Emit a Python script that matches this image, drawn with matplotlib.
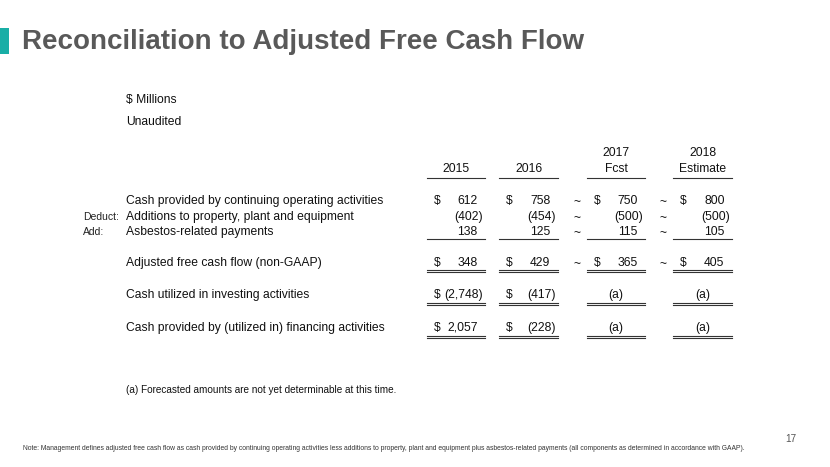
import matplotlib
matplotlib.use("Agg")
import matplotlib.pyplot as plt
from matplotlib.patches import Rectangle

# --- data ---
header_top = ["", "", "2017", "2018"]
header_bottom = ["2015", "2016", "Fcst", "Estimate"]
operating = [612, 758, 750, 800]
capex = [-402, -454, -500, -500]
asbestos = [138, 125, 115, 105]
adjusted_fcf = [348, 429, 365, 405]
investing = [-2748, -417, None, None]
financing = [2057, -228, None, None]
approx = [False, False, True, True]

row_labels = [
    "Cash provided by continuing operating activities",
    "Additions to property, plant and equipment",
    "Asbestos-related payments",
    "Adjusted free cash flow (non-GAAP)",
    "Cash utilized in investing activities",
    "Cash provided by (utilized in) financing activities",
]
row_prefix = ["", "Deduct:", "Add:", "", "", ""]

TITLE = "Reconciliation to Adjusted Free Cash Flow"
NOTE = ("Note: Management defines adjusted free cash flow as cash provided by continuing operating "
        "activities less additions to property, plant and equipment plus asbestos-related payments "
        "(all components as determined in accordance with GAAP).")

FONT = "Liberation Sans"
plt.rcParams["font.family"] = [FONT, "DejaVu Sans"]

# layout (pixel coords, y down)
col_left = [427, 499, 587, 673]
col_right = [485, 558, 645, 732]
label_x = 126
prefix_x = 83
row_y = [201, 217, 232, 263, 295, 328]
FS = 8.7
TXT = "#111111"


def fmt(v):
    if v < 0:
        return f"({-v:,})"
    return f"{v:,}"


fig = plt.figure(figsize=(8.3, 4.67), dpi=100)
ax = fig.add_axes([0, 0, 1, 1])
ax.set_xlim(0, 830)
ax.set_ylim(467, 0)
ax.axis("off")

# title block
ax.add_patch(Rectangle((0, 28), 9, 26, color="#19aea6", lw=0))
ax.text(22, 42, TITLE, fontsize=20, fontweight="bold", color="#595959",
        va="center", ha="left")

ax.text(label_x, 100, "$ Millions", fontsize=FS, va="center", color=TXT)
ax.text(label_x, 122, "Unaudited", fontsize=FS, va="center", color=TXT)

# column headers
for i in range(4):
    cx = (col_left[i] + col_right[i]) / 2
    if header_top[i]:
        ax.text(cx, 153, header_top[i], fontsize=FS, ha="center", va="center", color=TXT)
    ax.text(cx, 169, header_bottom[i], fontsize=FS, ha="center", va="center", color=TXT)
    ax.plot([col_left[i], col_right[i]], [177.5, 177.5], color="#333333", lw=0.8)

# row labels
for lab, pre, y in zip(row_labels, row_prefix, row_y):
    ax.text(label_x, y, lab, fontsize=FS, va="center", color=TXT)
    if pre:
        ax.text(prefix_x, y, pre, fontsize=FS - 1.2, va="center", color="#222222")

series = [operating, capex, asbestos, adjusted_fcf, investing, financing]
with_dollar = [True, False, False, True, True, True]
paren_w = 5

for r, (vals, y) in enumerate(zip(series, row_y)):
    for i in range(4):
        v = vals[i]
        xr = col_right[i] - 7.5
        if v is None:
            ax.text((col_left[i] + col_right[i]) / 2, y, "(a)", fontsize=FS,
                    ha="center", va="center", color=TXT)
        else:
            ax.text(xr + (paren_w if v < 0 else 0), y, fmt(v), fontsize=FS,
                    ha="right", va="center", color=TXT)
            if with_dollar[r]:
                ax.text(col_left[i] + 7, y, "$", fontsize=FS, ha="left", va="center", color=TXT)
        if approx[i] and r <= 3:
            ax.text(col_left[i] - 10, y + 1, "~", fontsize=FS, ha="center", va="center", color=TXT)

# underlines
lc = "#333333"
for i in range(4):
    ax.plot([col_left[i], col_right[i]], [239, 239], color=lc, lw=0.8)
    for y in (270, 302.5, 335.5):
        ax.plot([col_left[i], col_right[i]], [y, y], color=lc, lw=0.8)
        ax.plot([col_left[i], col_right[i]], [y + 2.2, y + 2.2], color=lc, lw=0.8)

ax.text(label_x, 390, "(a) Forecasted amounts are not yet determinable at this time.",
        fontsize=7.2, va="center", color=TXT)
ax.text(796, 439, "17", fontsize=7.2, ha="right", va="center", color="#555555")
ax.text(23, 449, NOTE, fontsize=4.9, va="center", color="#333333")

fig.savefig("out.png", dpi=100)
